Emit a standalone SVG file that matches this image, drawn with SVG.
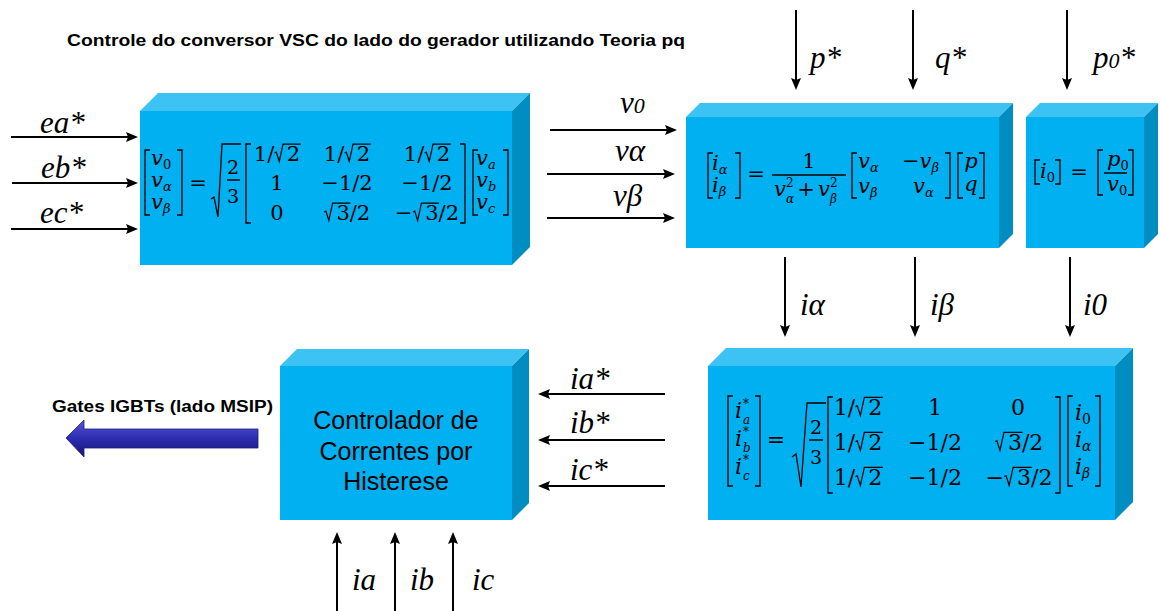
<svg xmlns="http://www.w3.org/2000/svg" width="1160" height="611" viewBox="0 0 1160 611">
<style>
.bf{fill:#00B0F0}.bt{fill:#3CC2F3}.bs{fill:#008DC2}
.m{font-family:"DejaVu Serif",serif;font-size:21px;fill:#000}
.m4{font-family:"DejaVu Serif",serif;font-size:22px;fill:#000}
.s12{font-size:12px}.s13{font-size:13px}.s14{font-size:14px}.s19{font-size:19px}
.i{font-style:italic}
.lbl{font-family:"Liberation Serif","Times New Roman",serif;font-style:italic;font-size:31px;fill:#000}
.br{fill:none;stroke:#000;stroke-width:1.3}
.cn{stroke:#000;stroke-width:2;fill:none;marker-end:url(#ah)}
.ar{font-family:"Liberation Sans",Arial,sans-serif;fill:#000}
</style>
<defs>
<marker id="ah" viewBox="0 0 12 10" refX="2" refY="5" markerWidth="12" markerHeight="10" markerUnits="userSpaceOnUse" orient="auto">
<path d="M0,0 L12,5 L0,10 L2,5 z" fill="#000"/>
</marker>
<path id="rad" d="M0.02,-0.38 L0.1,-0.42 L0.24,0.02 L0.42,-0.8 L1.26,-0.8" fill="none" stroke="#000" stroke-width="1.2" vector-effect="non-scaling-stroke"/>
<linearGradient id="blu" x1="0" y1="0" x2="0" y2="1">
<stop offset="0" stop-color="#5656d6"/><stop offset="0.5" stop-color="#2c2cb0"/><stop offset="1" stop-color="#151575"/>
</linearGradient>
</defs>

<text class="ar" x="67" y="46" font-size="16" font-weight="bold" textLength="618" lengthAdjust="spacingAndGlyphs">Controle do conversor VSC do lado do gerador utilizando Teoria pq</text>

<!-- Box 1: Clarke transform -->
<g id="box-clarke">
<polygon class="bt" points="140,111 158,93 530,93 512,111"/>
<polygon class="bs" points="512,111 530,93 530,247 512,265"/>
<rect class="bf" x="140" y="111" width="372" height="154"/>
<path class="br" d="M150,150 H145 V215 H150 M177,150 H182 V215 H177"/>
<text class="m i" x="151" y="165">v<tspan class="s13" dy="4" font-style="normal">0</tspan></text>
<text class="m i" x="151" y="187">v<tspan class="s13" dy="4">α</tspan></text>
<text class="m i" x="151" y="209">v<tspan class="s13" dy="4">β</tspan></text>
<text class="m" x="198" y="190" text-anchor="middle">=</text>
<path class="br" d="M211,199 L214,197 L218,217 L222,144 L241,144 M227,180 H240"/>
<text class="m s19" x="233" y="174" text-anchor="middle">2</text>
<text class="m s19" x="233" y="203" text-anchor="middle">3</text>
<path class="br" d="M251,144 H246 V223 H251 M460,144 H465 V223 H460"/>
<text class="m" x="253.8" y="161">1/</text><use href="#rad" transform="translate(274.2,161) scale(21)"/><text class="m" x="286.8" y="161">2</text>
<text class="m" x="323.8" y="161">1/</text><use href="#rad" transform="translate(344.2,161) scale(21)"/><text class="m" x="356.8" y="161">2</text>
<text class="m" x="403.8" y="161">1/</text><use href="#rad" transform="translate(424.2,161) scale(21)"/><text class="m" x="436.8" y="161">2</text>
<text class="m" x="277" y="190" text-anchor="middle">1</text>
<text class="m" x="347" y="190" text-anchor="middle">−1/2</text>
<text class="m" x="427" y="190" text-anchor="middle">−1/2</text>
<text class="m" x="277" y="220" text-anchor="middle">0</text>
<use href="#rad" transform="translate(323.8,220) scale(21)"/><text class="m" x="336.4" y="220">3</text><text class="m" x="349.8" y="220">/2</text>
<text class="m" x="395" y="220">−</text><use href="#rad" transform="translate(412.6,220) scale(21)"/><text class="m" x="425.2" y="220">3</text><text class="m" x="438.6" y="220">/2</text>
<path class="br" d="M478,150 H473 V215 H478 M503,150 H508 V215 H503"/>
<text class="m i" x="476" y="165">v<tspan class="s13" dy="4">a</tspan></text>
<text class="m i" x="476" y="187">v<tspan class="s13" dy="4">b</tspan></text>
<text class="m i" x="476" y="209">v<tspan class="s13" dy="4">c</tspan></text>
</g>

<!-- Box 2: pq currents -->
<g id="box-pq">
<polygon class="bt" points="686,117 700,103 1013,103 999,117"/>
<polygon class="bs" points="999,117 1013,103 1013,234 999,248"/>
<rect class="bf" x="686" y="117" width="313" height="131"/>
<path class="br" d="M713,153 H708 V198 H713 M735,153 H740 V198 H735"/>
<text class="m i" x="712" y="170">i<tspan class="s13" dy="4">α</tspan></text>
<text class="m i" x="712" y="192">i<tspan class="s13" dy="4">β</tspan></text>
<text class="m" x="756" y="181" text-anchor="middle">=</text>
<text class="m" x="809" y="168" text-anchor="middle">1</text>
<path class="br" d="M772,175 H846"/>
<text class="m i" x="774" y="196">v</text><text class="m s12" x="786" y="187">2</text><text class="m i s12" x="786" y="203">α</text>
<text class="m" x="806" y="196" text-anchor="middle">+</text>
<text class="m i" x="818" y="196">v</text><text class="m s12" x="830" y="187">2</text><text class="m i s12" x="830" y="203">β</text>
<path class="br" d="M857,153 H852 V198 H857 M945,153 H950 V198 H945"/>
<text class="m i" x="858" y="168">v<tspan class="s13" dy="4">α</tspan></text>
<text class="m" x="902" y="168">−<tspan class="i">v</tspan><tspan class="i s13" dy="4">β</tspan></text>
<text class="m i" x="858" y="193">v<tspan class="s13" dy="4">β</tspan></text>
<text class="m i" x="913" y="193">v<tspan class="s13" dy="4">α</tspan></text>
<path class="br" d="M963,153 H958 V198 H963 M979,153 H984 V198 H979"/>
<text class="m i" x="971" y="168" text-anchor="middle">p</text>
<text class="m i" x="971" y="191" text-anchor="middle">q</text>
</g>

<!-- Box 3: zero sequence -->
<g id="box-zero">
<polygon class="bt" points="1026,117 1040,103 1158,103 1144,117"/>
<polygon class="bs" points="1144,117 1158,103 1158,234 1144,248"/>
<rect class="bf" x="1026" y="117" width="118" height="131"/>
<path class="br" d="M1040,160 H1035 V184 H1040 M1055,160 H1060 V184 H1055"/>
<text class="m i" x="1040" y="178">i<tspan class="s13" dy="4" font-style="normal">0</tspan></text>
<text class="m" x="1079" y="179" text-anchor="middle">=</text>
<path class="br" d="M1103,150 H1098 V195 H1103 M1128,150 H1133 V195 H1128 M1104,173 H1127"/>
<text class="m i" x="1107" y="166">p<tspan class="s13" dy="4" font-style="normal">0</tspan></text>
<text class="m i" x="1107" y="191">v<tspan class="s13" dy="4" font-style="normal">0</tspan></text>
</g>

<!-- Box 4: inverse transform -->
<g id="box-inverse">
<polygon class="bt" points="708,366 726,348 1133,348 1115,366"/>
<polygon class="bs" points="1115,366 1133,348 1133,502 1115,520"/>
<rect class="bf" x="708" y="366" width="407" height="154"/>
<path class="br" d="M733,396 H728 V486 H733 M755,396 H760 V486 H755"/>
<text class="m4 i" x="735" y="418">i</text><text class="m4 s12" x="743" y="408">*</text><text class="m4 i s12" x="743" y="424">a</text>
<text class="m4 i" x="735" y="446">i</text><text class="m4 s12" x="743" y="436">*</text><text class="m4 i s12" x="743" y="452">b</text>
<text class="m4 i" x="735" y="474">i</text><text class="m4 s12" x="743" y="464">*</text><text class="m4 i s12" x="743" y="480">c</text>
<text class="m4" x="776" y="447" text-anchor="middle">=</text>
<path class="br" d="M792,457 L796,454 L801,487 L807,403 L826,403 M809,440 H823"/>
<text class="m s19" x="816" y="434" text-anchor="middle">2</text>
<text class="m s19" x="816" y="464" text-anchor="middle">3</text>
<path class="br" d="M833,397 H828 V493 H833 M1055,397 H1060 V493 H1055"/>
<text class="m4" x="833.7" y="415">1/</text><use href="#rad" transform="translate(855.1,415) scale(22)"/><text class="m4" x="868.3" y="415">2</text>
<text class="m4" x="935" y="415" text-anchor="middle">1</text>
<text class="m4" x="1018" y="415" text-anchor="middle">0</text>
<text class="m4" x="833.7" y="450">1/</text><use href="#rad" transform="translate(855.1,450) scale(22)"/><text class="m4" x="868.3" y="450">2</text>
<text class="m4" x="935" y="450" text-anchor="middle">−1/2</text>
<use href="#rad" transform="translate(994.7,450) scale(22)"/><text class="m4" x="1007.9" y="450">3</text><text class="m4" x="1021.9" y="450">/2</text>
<text class="m4" x="833.7" y="485">1/</text><use href="#rad" transform="translate(855.1,485) scale(22)"/><text class="m4" x="868.3" y="485">2</text>
<text class="m4" x="935" y="485" text-anchor="middle">−1/2</text>
<text class="m4" x="985.5" y="485">−</text><use href="#rad" transform="translate(1003.9,485) scale(22)"/><text class="m4" x="1017.1" y="485">3</text><text class="m4" x="1031.1" y="485">/2</text>
<path class="br" d="M1073,396 H1068 V486 H1073 M1095,396 H1100 V486 H1095"/>
<text class="m4 i" x="1075" y="420">i<tspan class="s14" dy="4" font-style="normal">0</tspan></text>
<text class="m4 i" x="1075" y="447">i<tspan class="s14" dy="4">α</tspan></text>
<text class="m4 i" x="1075" y="474">i<tspan class="s14" dy="4">β</tspan></text>
</g>

<!-- Box 5: hysteresis controller -->
<g id="box-hysteresis">
<polygon class="bt" points="280,366 297,349 529,349 512,366"/>
<polygon class="bs" points="512,366 529,349 529,503 512,520"/>
<rect class="bf" x="280" y="366" width="232" height="154"/>
<text class="ar" x="396" y="429" font-size="25" text-anchor="middle">Controlador de</text>
<text class="ar" x="396" y="460" font-size="25" text-anchor="middle">Correntes por</text>
<text class="ar" x="396" y="490" font-size="25" text-anchor="middle">Histerese</text>
</g>

<!-- Output arrow -->
<g id="gates-output">
<text class="ar" x="52" y="412" font-size="16" font-weight="bold" textLength="221" lengthAdjust="spacingAndGlyphs">Gates IGBTs (lado MSIP)</text>
<polygon points="66,438 84,420 84,429 258,429 258,448 84,448 84,457" fill="url(#blu)" stroke="#1a1a80" stroke-width="0.8"/>
</g>

<!-- Connectors -->
<g id="connectors">
<line class="cn" x1="11" y1="137" x2="128" y2="137"/>
<line class="cn" x1="12" y1="183" x2="128" y2="183"/>
<line class="cn" x1="11" y1="229" x2="128" y2="229"/>
<line class="cn" x1="550" y1="130" x2="667" y2="130"/>
<line class="cn" x1="547" y1="174" x2="665" y2="174"/>
<line class="cn" x1="547" y1="218" x2="665" y2="218"/>
<line class="cn" x1="796" y1="10" x2="796" y2="80"/>
<line class="cn" x1="913" y1="10" x2="913" y2="80"/>
<line class="cn" x1="1067" y1="10" x2="1067" y2="80"/>
<line class="cn" x1="785" y1="257" x2="785" y2="327"/>
<line class="cn" x1="915" y1="257" x2="915" y2="327"/>
<line class="cn" x1="1070" y1="257" x2="1070" y2="327"/>
<line class="cn" x1="665" y1="394" x2="548" y2="394"/>
<line class="cn" x1="665" y1="440" x2="548" y2="440"/>
<line class="cn" x1="665" y1="486" x2="548" y2="486"/>
<line class="cn" x1="337" y1="611" x2="337" y2="542"/>
<line class="cn" x1="395" y1="611" x2="395" y2="542"/>
<line class="cn" x1="453" y1="611" x2="453" y2="542"/>
</g>

<g id="connector-labels">
<text class="lbl" x="40" y="133">ea*</text>
<text class="lbl" x="41" y="178">eb*</text>
<text class="lbl" x="40" y="223">ec*</text>
<text class="lbl" x="620" y="113">v<tspan font-size="22">0</tspan></text>
<text class="lbl" x="615" y="161">vα</text>
<text class="lbl" x="613" y="206">vβ</text>
<text class="lbl" x="810" y="68">p*</text>
<text class="lbl" x="935" y="68">q*</text>
<text class="lbl" x="1093" y="68">p<tspan font-size="22">0</tspan>*</text>
<text class="lbl" x="800" y="315">iα</text>
<text class="lbl" x="930" y="315">iβ</text>
<text class="lbl" x="1083" y="315">i0</text>
<text class="lbl" x="570" y="389">ia*</text>
<text class="lbl" x="570" y="433">ib*</text>
<text class="lbl" x="570" y="480">ic*</text>
<text class="lbl" x="352" y="590">ia</text>
<text class="lbl" x="410" y="590">ib</text>
<text class="lbl" x="472" y="590">ic</text>
</g>
</svg>
